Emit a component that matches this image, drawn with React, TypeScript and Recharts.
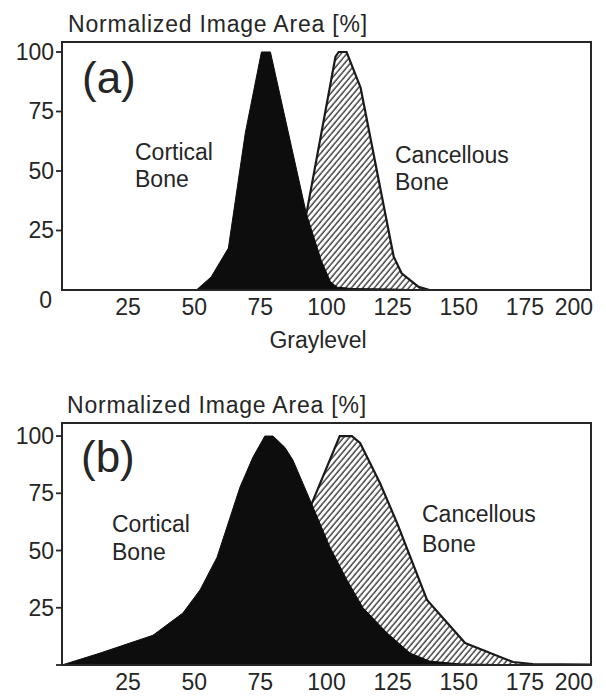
import React from 'react';
import { ComposedChart, Area, XAxis, YAxis, ReferenceArea } from 'recharts';

// ---------- data ----------
const xTicks = [25, 50, 75, 100, 125, 150, 175, 200];
const yTicks = [0, 25, 50, 75, 100];

// Panel (a)
const corticalAX = [0, 50.8, 56.4, 62.9, 69.3, 75.4, 78.8, 92.4, 98, 101.5, 104, 110, 125, 138, 200];
const corticalAY = [0, 0, 5.5, 17.6, 66, 100, 100, 32, 12.5, 3.5, 1.2, 0.6, 0.4, 0, 0];
const cancellousAX = [0, 87, 92.4, 103.4, 104.6, 107.6, 112.9, 125.4, 128.4, 134.8, 139, 200];
const cancellousAY = [0, 0, 32, 98, 100, 100, 85, 14, 7, 1.3, 0, 0];

// Panel (b)
const corticalBX = [0, 14.4, 34.4, 45.7, 52.2, 58.6, 67.3, 72.2, 76.7, 79.8, 84.3, 87.3, 93.8, 101.3, 107.8, 113.8, 122.9, 131.6, 139, 150, 175, 200];
const corticalBY = [0, 5.2, 13, 22.7, 32.8, 47, 77.7, 90.8, 100, 100, 95, 89.5, 72, 51.5, 37, 25, 14, 5.2, 1.7, 0.5, 0, 0];
const cancellousBX = [0, 75, 94.5, 105, 109.6, 112.7, 120.2, 126.7, 138, 152.4, 170.5, 178, 200];
const cancellousBY = [0, 0, 70.7, 100, 100, 97, 79.5, 62, 28.4, 9.6, 1.3, 0.4, 0.2];

const yTitle = 'Normalized Image Area [%]';
const xTitle = 'Graylevel';
const labelCortical = ['Cortical', 'Bone'];
const labelCancellous = ['Cancellous', 'Bone'];

// ---------- helpers ----------
type Row = { x: number; cortical: number | null; cancellous: number | null };
function buildRows(cx: number[], cy: number[], kx: number[], ky: number[]): Row[] {
  const xs = Array.from(new Set([...cx, ...kx])).sort((a, b) => a - b);
  return xs.map((x) => {
    const i = cx.indexOf(x);
    const j = kx.indexOf(x);
    return { x, cortical: i >= 0 ? cy[i] : null, cancellous: j >= 0 ? ky[j] : null };
  });
}

const FONT = '"Liberation Sans", Arial, Helvetica, sans-serif';
const INK = '#262626';
const FS = 23;

const makeYTick = (zeroLabel: boolean, zeroTick: boolean) => (props: any) => {
  const { x, y, payload } = props;
  const v = payload.value;
  const showTick = v !== 0 || zeroTick;
  const showLabel = v !== 0 || zeroLabel;
  return (
    <g>
      {showTick && <line x1={x - 6} x2={x} y1={y} y2={y} stroke={INK} strokeWidth={1.8} />}
      {showLabel && (
        <text
          x={v === 0 ? x - 10 : x - 8}
          y={v === 0 ? y + 18 : y + 8}
          textAnchor="end"
          fontFamily={FONT}
          fontSize={FS}
          fill={INK}
        >
          {v}
        </text>
      )}
    </g>
  );
};

const XTick = (props: any) => {
  const { x, y, payload } = props;
  const last = payload.value === 200;
  return (
    <text
      x={last ? x + 2 : x}
      y={y + 25}
      textAnchor={last ? 'end' : 'middle'}
      fontFamily={FONT}
      fontSize={FS}
      fill={INK}
    >
      {payload.value}
    </text>
  );
};

type PanelProps = {
  rows: Row[];
  height: number;
  top: number;
  marginTop: number;
  marginBottom: number;
  yMax: number;
  zeroLabel: boolean;
  zeroTick: boolean;
  id: string;
};

function Panel({ rows, height, top, marginTop, marginBottom, yMax, zeroLabel, zeroTick, id }: PanelProps) {
  return (
    <div style={{ position: 'absolute', left: 0, top, width: 606, height }}>
      <ComposedChart
        width={606}
        height={height}
        data={rows}
        margin={{ top: marginTop, right: 15, bottom: marginBottom, left: 0 }}
      >
        <defs>
          <pattern
            id={id}
            patternUnits="userSpaceOnUse"
            width={4.4}
            height={4.4}
            patternTransform="rotate(40)"
          >
            <rect x={0} y={0} width={4.4} height={4.4} fill="#ffffff" />
            <line x1={1} y1={0} x2={1} y2={4.4} stroke="#1e1e1e" strokeWidth={1.25} />
          </pattern>
        </defs>
        <XAxis
          dataKey="x"
          type="number"
          domain={[0, 200]}
          ticks={xTicks}
          interval={0}
          tickLine={false}
          tickSize={0}
          tickMargin={0}
          height={30}
          axisLine={{ stroke: INK, strokeWidth: 2 }}
          tick={XTick}
          allowDataOverflow
        />
        <YAxis
          type="number"
          domain={[0, yMax]}
          ticks={yTicks}
          interval={0}
          tickLine={false}
          tickSize={0}
          tickMargin={0}
          width={62}
          axisLine={{ stroke: INK, strokeWidth: 2 }}
          tick={makeYTick(zeroLabel, zeroTick)}
          allowDataOverflow
        />
        <Area
          dataKey="cancellous"
          type="linear"
          fill={`url(#${id})`}
          fillOpacity={1}
          stroke="#1a1a1a"
          strokeWidth={2.2}
          connectNulls
          dot={false}
          activeDot={false}
          isAnimationActive={false}
        />
        <Area
          dataKey="cortical"
          type="linear"
          fill="#0d0d0d"
          fillOpacity={1}
          stroke="#0d0d0d"
          strokeWidth={1}
          connectNulls
          dot={false}
          activeDot={false}
          isAnimationActive={false}
        />
        <ReferenceArea
          x1={0}
          x2={200}
          y1={0}
          y2={yMax}
          fill="none"
          fillOpacity={0}
          stroke={INK}
          strokeWidth={2}
          ifOverflow="visible"
        />
      </ComposedChart>
    </div>
  );
}

export default function App() {
  const rowsA = buildRows(corticalAX, corticalAY, cancellousAX, cancellousAY);
  const rowsB = buildRows(corticalBX, corticalBY, cancellousBX, cancellousBY);
  const t = { fontFamily: FONT, fill: INK } as const;
  return (
    <div style={{ position: 'absolute', left: 0, top: 0, width: 606, height: 697, background: '#fff' }}>
      <Panel rows={rowsA} height={380} top={0} marginTop={42} marginBottom={60} yMax={104.2} zeroLabel zeroTick={false} id="hatchA" />
      <Panel rows={rowsB} height={317} top={380} marginTop={43} marginBottom={2} yMax={105.7} zeroLabel={false} zeroTick id="hatchB" />
      <svg width={606} height={697} style={{ position: 'absolute', left: 0, top: 0, pointerEvents: 'none' }}>
        {/* panel (a) */}
        <text x={68} y={32} fontSize={FS} letterSpacing={0.8} {...t}>{yTitle}</text>
        <text x={82} y={93} fontSize={44} {...t}>(a)</text>
        <text x={135} y={160} fontSize={FS} {...t}>{labelCortical[0]}</text>
        <text x={135} y={187} fontSize={FS} {...t}>{labelCortical[1]}</text>
        <text x={395} y={163} fontSize={FS} {...t}>{labelCancellous[0]}</text>
        <text x={395} y={190} fontSize={FS} {...t}>{labelCancellous[1]}</text>
        <text x={318} y={348} fontSize={FS} textAnchor="middle" {...t}>{xTitle}</text>
        {/* panel (b) */}
        <text x={67} y={413} fontSize={FS} letterSpacing={0.8} {...t}>{yTitle}</text>
        <text x={81} y={472} fontSize={44} {...t}>(b)</text>
        <text x={112} y={532} fontSize={FS} {...t}>{labelCortical[0]}</text>
        <text x={112} y={560} fontSize={FS} {...t}>{labelCortical[1]}</text>
        <text x={422} y={522} fontSize={FS} {...t}>{labelCancellous[0]}</text>
        <text x={422} y={552} fontSize={FS} {...t}>{labelCancellous[1]}</text>
      </svg>
    </div>
  );
}
